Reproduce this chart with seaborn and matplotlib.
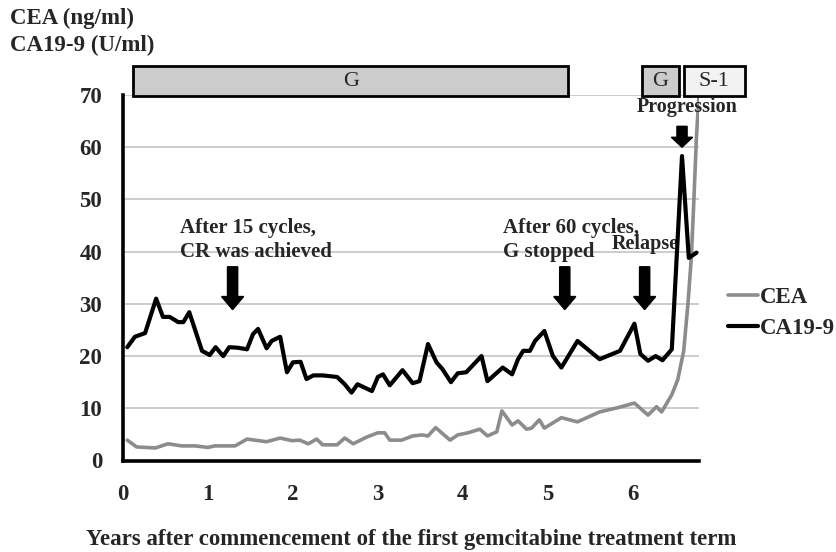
import matplotlib
matplotlib.use("Agg")
import matplotlib.pyplot as plt
from matplotlib.patches import Rectangle
import seaborn as sns
import pandas as pd

# values
cea_years = [0.05, 0.16, 0.38, 0.53, 0.69, 0.85, 1.0, 1.08, 1.32, 1.46, 1.69, 1.85, 1.99,
             2.08, 2.18, 2.28, 2.35, 2.52, 2.61, 2.71, 2.87, 3.0, 3.08, 3.14, 3.28, 3.41,
             3.52, 3.59, 3.68, 3.85, 3.94, 4.06, 4.2, 4.29, 4.4, 4.46, 4.58, 4.65, 4.75,
             4.81, 4.9, 4.96, 5.16, 5.35, 5.61, 5.82, 6.02, 6.18, 6.28, 6.34, 6.46, 6.53,
             6.6, 6.65, 6.69, 6.72, 6.75, 6.78]
cea_values = [3.9, 2.6, 2.4, 3.2, 2.8, 2.8, 2.5, 2.8, 2.8, 4.1, 3.6, 4.3, 3.8,
              3.9, 3.2, 4.1, 3.0, 3.0, 4.3, 3.2, 4.5, 5.3, 5.3, 3.9, 3.9, 4.7,
              4.9, 4.7, 6.3, 3.9, 4.9, 5.3, 6.0, 4.7, 5.5, 9.5, 6.8, 7.6, 6.0,
              6.2, 7.8, 6.2, 8.2, 7.4, 9.3, 10.1, 11.0, 8.7, 10.3, 9.3, 12.6, 15.5,
              21.0, 30.0, 39.0, 50.0, 62.0, 70.0]

ca199_years = [0.05, 0.14, 0.26, 0.39, 0.47, 0.55, 0.65, 0.71, 0.78, 0.93, 1.02, 1.09,
               1.18, 1.25, 1.35, 1.46, 1.53, 1.59, 1.69, 1.75, 1.85, 1.93, 2.0, 2.09,
               2.16, 2.24, 2.35, 2.52, 2.61, 2.69, 2.76, 2.93, 3.0, 3.06, 3.14, 3.29,
               3.41, 3.49, 3.59, 3.69, 3.76, 3.86, 3.94, 4.04, 4.22, 4.29, 4.38, 4.47,
               4.58, 4.65, 4.71, 4.79, 4.85, 4.96, 5.06, 5.16, 5.35, 5.61, 5.85, 6.02,
               6.09, 6.18, 6.27, 6.35, 6.46, 6.58, 6.66, 6.75]
ca199_values = [21.7, 23.7, 24.4, 31.0, 27.5, 27.5, 26.5, 26.5, 28.4, 21.0, 20.2, 21.7,
                20.0, 21.7, 21.6, 21.3, 24.2, 25.2, 21.5, 22.9, 23.7, 16.9, 18.8, 18.9,
                15.6, 16.3, 16.3, 16.0, 14.6, 13.0, 14.6, 13.3, 16.0, 16.5, 14.4, 17.3,
                14.8, 15.2, 22.3, 18.8, 17.5, 15.0, 16.7, 16.9, 20.0, 15.2, 16.5, 17.8,
                16.5, 19.4, 21.0, 21.0, 22.9, 24.8, 20.0, 17.8, 22.9, 19.4, 21.0, 26.2,
                20.4, 19.1, 20.0, 19.2, 21.3, 58.3, 38.8, 39.8]

year_ticks = [0, 1, 2, 3, 4, 5, 6]
value_ticks = [0, 10, 20, 30, 40, 50, 60, 70]

# treatment bars: (label, start, end, fill)
treatments = [("G", 0.12, 5.24, "#cccccc"),
              ("G", 6.11, 6.54, "#cccccc"),
              ("S-1", 6.6, 7.32, "#f2f2f2")]

sns.set_style("white")
plt.rcParams["font.family"] = ["Liberation Serif", "DejaVu Serif"]
plt.rcParams["font.weight"] = "bold"

fig = plt.figure(figsize=(8.37, 5.52), dpi=100)
ax = fig.add_axes([123 / 837, 1 - 460.5 / 552, 576 / 837, 365.5 / 552])

cea_df = pd.DataFrame({"year": cea_years, "value": cea_values})
ca_df = pd.DataFrame({"year": ca199_years, "value": ca199_values})
sns.lineplot(data=cea_df, x="year", y="value", color="#8c8c8c", linewidth=2.6,
             label="CEA", ax=ax, zorder=3)
sns.lineplot(data=ca_df, x="year", y="value", color="black", linewidth=3,
             label="CA19-9", ax=ax, zorder=4)

ax.set_xlim(0, 6.78)
ax.set_ylim(0, 70)
ax.set_xticks(year_ticks)
ax.set_yticks(value_ticks)
ax.yaxis.grid(True, color="#c4c4c4", linewidth=1.2)
ax.set_axisbelow(True)
for side in ["top", "right"]:
    ax.spines[side].set_visible(False)
for side in ["left", "bottom"]:
    ax.spines[side].set_linewidth(2.6)
    ax.spines[side].set_color("black")
ax.tick_params(axis="both", direction="out", length=5, width=2.6, color="black",
               labelsize=16.5)
ax.tick_params(axis="y", pad=10)
ax.tick_params(axis="x", pad=12)
ax.set_xlabel("Years after commencement of the first gemcitabine treatment term",
              fontsize=16.5, fontweight="bold", labelpad=17)
ax.set_ylabel("")

fig.text(10 / 837, 1 - 18 / 552, "CEA (ng/ml)", fontsize=16.5, fontweight="bold",
         va="center", ha="left")
fig.text(10 / 837, 1 - 45 / 552, "CA19-9 (U/ml)", fontsize=16.5, fontweight="bold",
         va="center", ha="left")

for label, start, end, fill in treatments:
    ax.add_patch(Rectangle((start, 69.8), end - start, 5.7, facecolor=fill,
                           edgecolor="black", linewidth=2, clip_on=False, zorder=5))
    ax.text((start + end) / 2, 72.65, label, ha="center", va="center", fontsize=16,
            fontweight="normal", zorder=6, clip_on=False)

# event arrows
for x in [1.29, 5.2, 6.14]:
    ax.arrow(x, 37.1, 0, -8.2, width=0.12, head_width=0.26, head_length=2.5,
             length_includes_head=True, color="black", zorder=6)
ax.arrow(6.58, 64.0, 0, -4.0, width=0.12, head_width=0.25, head_length=1.9,
         length_includes_head=True, color="black", zorder=6)

ax.text(0.67, 44.6, "After 15 cycles,", fontsize=15, fontweight="bold", va="center")
ax.text(0.67, 40.0, "CR was achieved", fontsize=15, fontweight="bold", va="center")
ax.text(4.47, 44.6, "After 60 cycles,", fontsize=15, fontweight="bold", va="center")
ax.text(4.47, 40.0, "G stopped", fontsize=15, fontweight="bold", va="center")
ax.text(5.75, 41.4, "Relapse", fontsize=14.5, fontweight="bold", va="center", zorder=2)
ax.text(6.645, 67.7, "Progression", fontsize=14.5, fontweight="bold", va="center",
        ha="center", clip_on=False, zorder=7)

ax.legend(loc="center left", bbox_to_anchor=(728 / 837, 1 - 313 / 552),
          bbox_transform=fig.transFigure, frameon=False, handlelength=1.3,
          handletextpad=0.1, borderaxespad=0, borderpad=0, labelspacing=0.45,
          prop={"size": 16.5, "weight": "bold"})

fig.savefig("out.png", dpi=100)
